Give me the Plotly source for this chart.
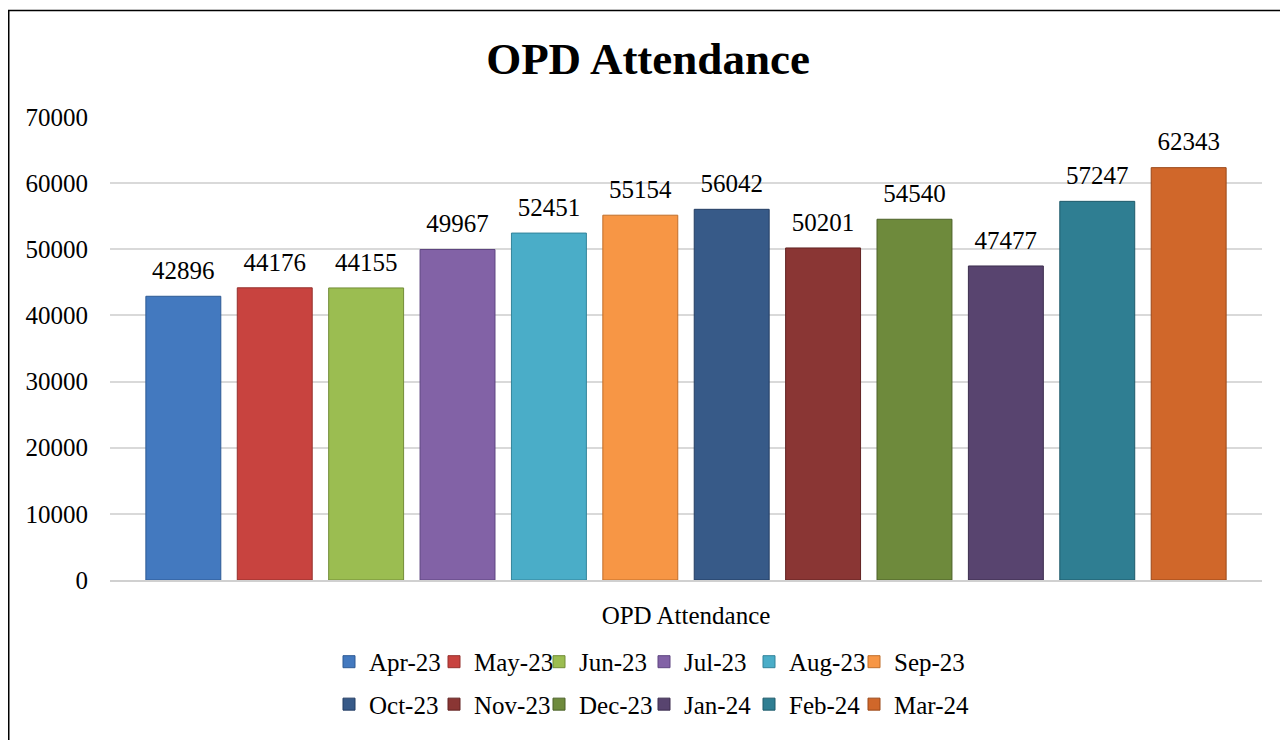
import plotly.graph_objects as go

# --- data ---
MONTHS = ['Apr-23', 'May-23', 'Jun-23', 'Jul-23', 'Aug-23', 'Sep-23',
          'Oct-23', 'Nov-23', 'Dec-23', 'Jan-24', 'Feb-24', 'Mar-24']
ATTENDANCE = [42896, 44176, 44155, 49967, 52451, 55154,
              56042, 50201, 54540, 47477, 57247, 62343]
CATEGORY = 'OPD Attendance'

FILLS = ['#4379BF', '#C8433F', '#9BBD51', '#8262A6', '#4AADC8', '#F79645',
         '#375A88', '#8A3634', '#6E8A3C', '#58446F', '#2F7E92', '#D0672A']
EDGES = ['#2E5A94', '#95302D', '#728D38', '#5E4580', '#32839A', '#C06E2A',
         '#233D63', '#622322', '#4C6128', '#3C2D4E', '#1E5A6A', '#9A4818']

FONT = 'Liberation Serif'
GAP = 0.048

# page body has an 8px margin, so the figure is 8px smaller and all
# positions below are the reference positions minus 8
W, H = 1280, 732
L, R, T, B = 102, 26, 109, 154
PW, PH = W - L - R, H - T - B

fig = go.Figure()
for i, (m, v) in enumerate(zip(MONTHS, ATTENDANCE)):
    fig.add_trace(go.Bar(
        x=[CATEGORY], y=[v], name=m,
        marker=dict(color=FILLS[i], line=dict(color=EDGES[i], width=1)),
        legend='legend' if i < 6 else 'legend2',
        hoverinfo='skip',
    ))

# value labels: grouped text points sitting on the same slots as the bars
for i, (m, v) in enumerate(zip(MONTHS, ATTENDANCE)):
    fig.add_trace(go.Scatter(
        x=[CATEGORY], y=[v], mode='markers+text', text=[str(v)],
        textposition='top center', showlegend=False, cliponaxis=False,
        marker=dict(size=16, color='rgba(0,0,0,0)'),
        textfont=dict(family=FONT, size=25, color='black'),
    ))

# empty spacer entry at the end of each legend row so the last label
# is not clipped by the fixed entry width
for lg in ['legend', 'legend2']:
    fig.add_trace(go.Scatter(
        x=[None], y=[None], xaxis='x2', yaxis='y2', mode='markers', name='',
        marker=dict(color='rgba(0,0,0,0)'), legend=lg, hoverinfo='skip',
    ))

leg = dict(orientation='h', xanchor='left', x=(321 - L) / PW, yanchor='middle',
           font=dict(family=FONT, size=25, color='black'),
           itemwidth=30, entrywidth=60, entrywidthmode='pixels',
           bgcolor='rgba(0,0,0,0)', traceorder='normal')

fig.update_layout(
    width=W, height=H,
    margin=dict(l=L, r=R, t=T, b=B),
    paper_bgcolor='white', plot_bgcolor='white',
    barmode='group', bargap=GAP, bargroupgap=0.18,
    scattermode='group', scattergap=GAP,
    title=dict(text='<b>OPD Attendance</b>', x=0.5, xanchor='center',
               y=1 - 50 / H, yanchor='middle',
               font=dict(family=FONT, size=45, color='black')),
    legend=dict(leg, y=(H - B - 661) / PH),
    legend2=dict(leg, y=(H - B - 704) / PH),
    showlegend=True,
    xaxis=dict(showgrid=False, ticks='', showline=True, linecolor='#D0D0D0',
               linewidth=1.5, ticklabelstandoff=12,
               tickfont=dict(family=FONT, size=25, color='black')),
    yaxis=dict(range=[0, 70000], dtick=10000, showgrid=True, gridcolor='#D9D9D9',
               gridwidth=1.5, zeroline=False, showline=False, ticks='',
               ticklabelstandoff=21, tickformat='d',
               tickfont=dict(family=FONT, size=25, color='black')),
    xaxis2=dict(visible=False, overlaying='x'),
    yaxis2=dict(visible=False, overlaying='y'),
    shapes=[dict(type='rect', xref='paper', yref='paper',
                 x0=(0.75 - L) / PW, x1=(W + 20 - L) / PW,
                 y0=(H - B - H - 20) / PH, y1=(H - B - 1) / PH,
                 line=dict(color='black', width=1.5), layer='below')],
)

fig.write_html('out.html')
